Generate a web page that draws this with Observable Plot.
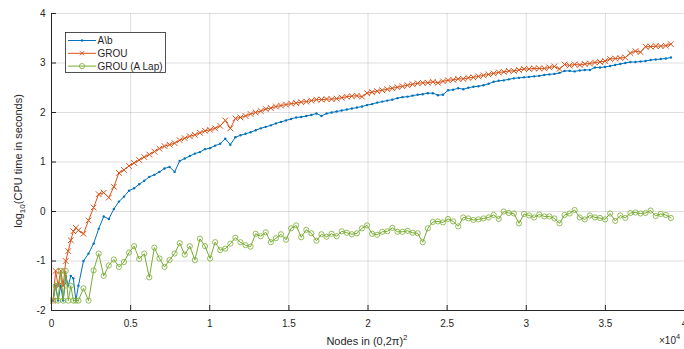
<!DOCTYPE html>
<html><head><meta charset="utf-8">
<script src="https://cdn.jsdelivr.net/npm/d3@7"></script>
<script src="https://cdn.jsdelivr.net/npm/@observablehq/plot@0.6"></script>
<style>body{margin:0;background:#fff}#chart svg{display:block;background:#fff}</style>
</head><body><div id="chart"></div>
<script>
const nodes = [100,260,420,580,740,900,1060,1220,1380,1540,1700,
2020,2340,2660,2980,3300,3620,3940,4260,4580,4900,5220,5540,5860,6180,6500,6820,7140,7460,7780,8100,
8420,8740,9060,9380,9700,10020,10340,10660,10980,11300,11620,11940,12260,12580,12900,13220,13540,13860,14180,14500,
14820,15140,15460,15780,16100,16420,16740,17060,17380,17700,18020,18340,18660,18980,19300,19620,19940,20260,20580,20900,
21220,21540,21860,22180,22500,22820,23140,23460,23780,24100,24420,24740,25060,25380,25700,26020,26340,26660,26980,27300,
27620,27940,28260,28580,28900,29220,29540,29860,30180,30500,30820,31140,31460,31780,32100,32420,32740,33060,33380,33700,
34020,34340,34660,34980,35300,35620,35940,36260,36580,36900,37220,37540,37860,38180,38500,38820,39140];

const abTime = [-1.8,-1.5,-1.8,-1.5,-1.8,-1.3,-1.5,-1.3,-1.35,-1.8,-1.5,
-1.0,-0.85,-0.65,-0.35,-0.1,-0.15,0.05,0.2,0.3,0.42,
0.47,0.55,0.62,0.7,0.74,0.8,0.87,0.9,0.8,1.02,
1.07,1.12,1.17,1.2,1.26,1.28,1.33,1.37,1.47,1.35,
1.5,1.54,1.57,1.6,1.64,1.68,1.71,1.74,1.78,1.81,
1.84,1.87,1.9,1.91,1.93,1.95,1.98,1.93,1.98,2.0,
2.02,2.04,2.06,2.08,2.1,2.12,2.15,2.17,2.2,2.22,
2.24,2.26,2.29,2.31,2.32,2.34,2.36,2.37,2.39,2.39,
2.35,2.36,2.45,2.46,2.49,2.47,2.5,2.52,2.53,2.55,
2.58,2.62,2.64,2.65,2.67,2.69,2.7,2.71,2.72,2.73,
2.74,2.76,2.77,2.78,2.8,2.84,2.84,2.83,2.85,2.86,
2.86,2.91,2.91,2.92,2.94,2.96,2.98,3.0,3.02,3.02,
3.03,3.04,3.06,3.07,3.08,3.09,3.11];

const grouTime = [-1.8,-1.2,-1.5,-1.2,-1.5,-1.0,-0.8,-0.58,-0.4,-0.33,-0.38,
-0.45,-0.18,0.08,0.35,0.38,0.28,0.5,0.78,0.84,0.92,
0.98,1.04,1.1,1.15,1.21,1.27,1.32,1.35,1.38,1.44,
1.48,1.52,1.55,1.59,1.63,1.65,1.68,1.73,1.84,1.68,
1.88,1.9,1.93,1.97,2.0,2.03,2.07,2.09,2.12,2.14,
2.16,2.18,2.19,2.21,2.22,2.24,2.26,2.26,2.27,2.27,
2.28,2.3,2.32,2.33,2.34,2.32,2.39,2.41,2.43,2.45,
2.47,2.49,2.51,2.53,2.55,2.57,2.59,2.6,2.6,2.62,
2.6,2.63,2.65,2.66,2.68,2.68,2.7,2.71,2.73,2.75,
2.77,2.79,2.81,2.82,2.84,2.84,2.86,2.88,2.88,2.89,
2.89,2.89,2.91,2.93,2.88,2.97,2.95,2.97,2.96,2.98,
2.99,3.01,3.02,3.04,3.08,3.09,3.1,3.11,3.2,3.24,
3.22,3.33,3.33,3.34,3.34,3.35,3.38];

const grouLapTime = [-1.8,-1.5,-1.8,-1.2,-1.8,-1.2,-1.8,-1.5,-1.8,-1.8,-1.8,
-1.55,-1.8,-1.19,-0.85,-1.3,-1.09,-0.97,-1.12,-1.02,-0.83,
-0.7,-0.96,-0.85,-1.33,-0.73,-0.95,-1.12,-0.98,-0.85,-0.64,
-0.87,-0.7,-0.98,-0.55,-0.7,-0.95,-0.62,-0.78,-0.75,-0.65,
-0.53,-0.62,-0.68,-0.71,-0.45,-0.5,-0.42,-0.62,-0.54,-0.46,
-0.57,-0.34,-0.28,-0.52,-0.37,-0.44,-0.59,-0.46,-0.51,-0.45,
-0.5,-0.4,-0.43,-0.46,-0.44,-0.34,-0.28,-0.45,-0.47,-0.41,
-0.4,-0.33,-0.41,-0.41,-0.39,-0.43,-0.44,-0.62,-0.34,-0.21,
-0.2,-0.22,-0.15,-0.2,-0.3,-0.12,-0.14,-0.17,-0.16,-0.14,
-0.12,-0.07,-0.15,0.0,-0.03,-0.04,-0.24,-0.05,-0.08,-0.12,
-0.06,-0.1,-0.1,-0.14,-0.24,-0.07,-0.04,0.03,-0.12,-0.16,
-0.08,-0.12,-0.13,-0.16,-0.04,-0.19,-0.08,-0.13,-0.03,-0.02,
-0.04,-0.03,0.02,-0.09,-0.05,-0.07,-0.13];

const seriesNames = ["A\\b", "GROU", "GROU (A Lap)"];
const xTicks = [0,5000,10000,15000,20000,25000,30000,35000,40000];
const yTicks = [-2,-1,0,1,2,3,4];

const BLUE = "#0072BD", ORANGE = "#D95319", GREEN = "#77AC30", AX = "#262626";
const rows = nodes.map((n, i) => ({n, ab: abTime[i], grou: grouTime[i], lap: grouLapTime[i]}));

const W = 684, H = 349, ML = 51, MR = 0, MT = 13, MB = 39;
const font = "'Liberation Sans', Arial, Helvetica, sans-serif";

const svg = Plot.plot({
  width: W, height: H,
  marginLeft: ML, marginRight: MR, marginTop: MT, marginBottom: MB,
  style: {fontFamily: font, fontSize: "10px", color: AX, background: "#fff", overflow: "hidden"},
  x: {domain: [0, 40000], label: null},
  y: {domain: [-2, 4], label: null},
  marks: [
    Plot.ruleX(xTicks, {stroke: AX, strokeOpacity: 0.15, strokeWidth: 1}),
    Plot.ruleY(yTicks, {stroke: AX, strokeOpacity: 0.15, strokeWidth: 1}),
    Plot.line(rows, {x: "n", y: "ab", stroke: BLUE, strokeWidth: 1}),
    Plot.dot(rows, {x: "n", y: "ab", r: 1.2, fill: BLUE, stroke: "none"}),
    Plot.line(rows, {x: "n", y: "grou", stroke: ORANGE, strokeWidth: 1}),
    Plot.dot(rows, {x: "n", y: "grou", symbol: "times", r: 2.7, stroke: ORANGE, strokeWidth: 1, fill: "none"}),
    Plot.line(rows, {x: "n", y: "lap", stroke: GREEN, strokeWidth: 1}),
    Plot.dot(rows, {x: "n", y: "lap", symbol: "circle", r: 2.6, stroke: GREEN, strokeWidth: 0.8, fill: "none"}),
    Plot.ruleX([0], {stroke: AX, strokeWidth: 1}),
    Plot.ruleY([-2], {stroke: AX, strokeWidth: 1}),
    Plot.ruleX(xTicks, {stroke: AX, strokeWidth: 1, insetTop: (H - MT - MB) - 5}),
    Plot.ruleY(yTicks, {stroke: AX, strokeWidth: 1, insetRight: (W - ML - MR) - 5}),
    Plot.axisX(xTicks, {tickSize: 0, tickPadding: 9, tickFormat: d => String(d / 10000), fontSize: 10, fill: AX, label: null}),
    Plot.axisY(yTicks, {tickSize: 0, tickPadding: 6, tickFormat: d => String(d), fontSize: 10, fill: AX, label: null})
  ]
});

document.getElementById("chart").appendChild(svg);

const s = d3.select(svg);
const ns = s.append("g").attr("font-family", font).attr("fill", AX);

// y label
const yl = ns.append("text").attr("transform", "translate(22,161) rotate(-90)")
  .attr("text-anchor", "middle").attr("font-size", 11);
yl.append("tspan").text("log");
yl.append("tspan").attr("font-size", 8).attr("dy", 3).text("10");
yl.append("tspan").attr("dy", -3).text("(CPU time in seconds)");

// x label
const xl = ns.append("text").attr("x", 367).attr("y", 345).attr("text-anchor", "middle").attr("font-size", 11);
xl.append("tspan").text("Nodes in (0,2\u03C0)");
xl.append("tspan").attr("font-size", 8).attr("dy", -5).text("2");

// exponent
const ex = ns.append("text").attr("x", 659).attr("y", 344).attr("text-anchor", "start").attr("font-size", 10);
ex.append("tspan").text("\u00D710");
ex.append("tspan").attr("font-size", 7.5).attr("dy", -5).text("4");

// legend
const lg = s.append("g");
lg.append("rect").attr("x", 65.5).attr("y", 32.5).attr("width", 100).attr("height", 40)
  .attr("fill", "#ffffff").attr("stroke", AX).attr("stroke-width", 0.8);
const cols = [BLUE, ORANGE, GREEN];
seriesNames.forEach((name, i) => {
  const y = 40.5 + i * 12.8;
  lg.append("line").attr("x1", 68).attr("x2", 96).attr("y1", y).attr("y2", y).attr("stroke", cols[i]).attr("stroke-width", 1);
  if (i === 0) lg.append("circle").attr("cx", 82).attr("cy", y).attr("r", 1.2).attr("fill", BLUE);
  if (i === 1) lg.append("path").attr("d", `M${80},${y-2}L${84},${y+2}M${80},${y+2}L${84},${y-2}`).attr("stroke", ORANGE).attr("stroke-width", 1).attr("fill", "none");
  if (i === 2) lg.append("circle").attr("cx", 82).attr("cy", y).attr("r", 2.6).attr("fill", "none").attr("stroke", GREEN).attr("stroke-width", 0.8);
  lg.append("text").attr("x", 97.5).attr("y", y).attr("dy", "0.35em").attr("text-anchor", "start").attr("font-family", font)
    .attr("font-size", 10).attr("fill", AX).text(name);
});
</script>
</body></html>
